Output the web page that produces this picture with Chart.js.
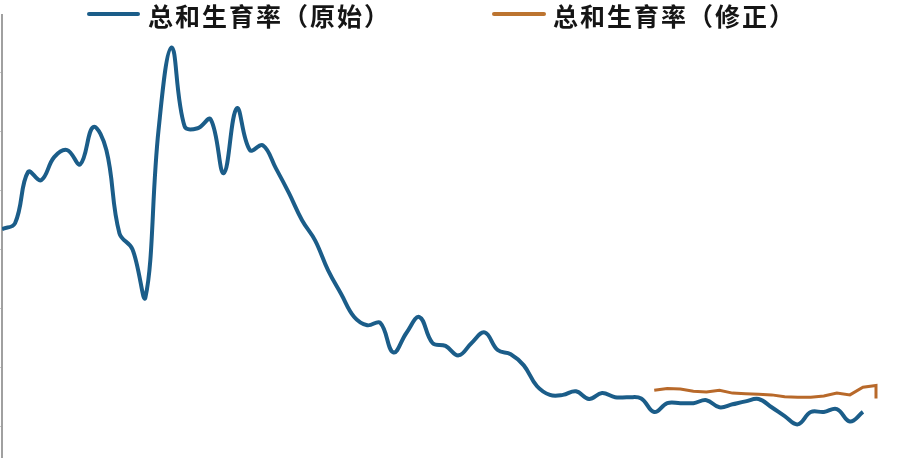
<!DOCTYPE html>
<html>
<head>
<meta charset="utf-8">
<script src="https://cdn.jsdelivr.net/npm/chart.js@4/dist/chart.umd.min.js"></script>
<style>
  html, body { margin: 0; padding: 0; background: #fff; }
  #wrap { position: relative; width: 908px; height: 458px; overflow: hidden; }
  #chart { position: absolute; left: 0; top: 0; }
  .lg-line { position: absolute; height: 4px; border-radius: 2px; }
  .lg-text { position: absolute; top: 0; font-family: "Noto Sans CJK SC", sans-serif; font-weight: 700;
             font-size: 25px; letter-spacing: 2px; line-height: 30px; color: #151515; white-space: nowrap; }
</style>
</head>
<body>
<div id="wrap">
  <canvas id="chart" width="908" height="458"></canvas>
  <div class="lg-line" style="left:87px; top:12px; width:53px; background:#1b5d89;"></div>
  <div class="lg-text" style="left:148px;">总和生育率（原始）</div>
  <div class="lg-line" style="left:492px; top:12px; width:54px; background:#bc7430;"></div>
  <div class="lg-text" style="left:553px;">总和生育率（修正）</div>
</div>
<script>
// 原始：1950-2016
const rawYears = [
  1950, 1951, 1952, 1953, 1954, 1955, 1956, 1957, 1958, 1959,
  1960, 1961, 1962, 1963, 1964, 1965, 1966, 1967, 1968, 1969,
  1970, 1971, 1972, 1973, 1974, 1975, 1976, 1977, 1978, 1979,
  1980, 1981, 1982, 1983, 1984, 1985, 1986, 1987, 1988, 1989,
  1990, 1991, 1992, 1993, 1994, 1995, 1996, 1997, 1998, 1999,
  2000, 2001, 2002, 2003, 2004, 2005, 2006, 2007, 2008, 2009,
  2010, 2011, 2012, 2013, 2014, 2015, 2016
];
const rawTfr = [
  4.34, 4.44, 5.31, 5.17, 5.56, 5.68, 5.44, 6.07, 5.68, 4.27,
  4.00, 3.19, 6.02, 7.42, 6.08, 6.05, 6.20, 5.29, 6.39, 5.68,
  5.76, 5.37, 4.95, 4.49, 4.15, 3.64, 3.24, 2.85, 2.71, 2.75,
  2.25, 2.58, 2.85, 2.41, 2.36, 2.20, 2.41, 2.59, 2.29, 2.22,
  2.03, 1.68, 1.53, 1.53, 1.59, 1.46, 1.56, 1.49, 1.49, 1.47,
  1.24, 1.39, 1.39, 1.39, 1.44, 1.32, 1.37, 1.42, 1.46, 1.32,
  1.17, 1.03, 1.24, 1.24, 1.29, 1.08, 1.24
];

// 修正：2000-2017（最后一年有两个值，线在末端竖直下落）
const revYears = [
  2000, 2001, 2002, 2003, 2004, 2005, 2006, 2007, 2008, 2009,
  2010, 2011, 2012, 2013, 2014, 2015, 2016, 2017, 2017
];
const revTfr = [
  1.61, 1.64, 1.63, 1.59, 1.58, 1.61, 1.56, 1.55, 1.54, 1.53,
  1.50, 1.49, 1.49, 1.51, 1.56, 1.53, 1.66, 1.69, 1.47
];

const yTicks = [1, 2, 3, 4, 5, 6, 7];

const toPoints = (xs, ys) => xs.map((x, i) => ({ x: x, y: ys[i] }));

const ctx = document.getElementById("chart").getContext("2d");
new Chart(ctx, {
  type: "line",
  data: {
    datasets: [
      {
        label: "总和生育率（原始）",
        data: toPoints(rawYears, rawTfr),
        borderColor: "#1b5d89",
        borderWidth: 4,
        tension: 0.4,
        pointRadius: 0,
        fill: false
      },
      {
        label: "总和生育率（修正）",
        data: toPoints(revYears, revTfr),
        borderColor: "#b8692a",
        borderWidth: 3,
        tension: 0,
        pointRadius: 0,
        fill: false
      }
    ]
  },
  options: {
    responsive: false,
    animation: false,
    devicePixelRatio: 1,
    layout: { padding: { top: 15, right: 2, left: 0, bottom: 0 } },
    plugins: { legend: { display: false }, tooltip: { enabled: false } },
    scales: {
      x: {
        type: "linear",
        min: 1950,
        max: 2019.3,
        display: false
      },
      y: {
        min: 0.46,
        max: 7.97,
        afterBuildTicks: s => { s.ticks = yTicks.map(v => ({ value: v })); },
        ticks: { display: false },
        grid: { drawOnChartArea: false, drawTicks: true, tickLength: 2, color: "#c8c8c8" },
        border: { display: true, color: "#a0a0a0", width: 2 }
      }
    }
  }
});
</script>
</body>
</html>
